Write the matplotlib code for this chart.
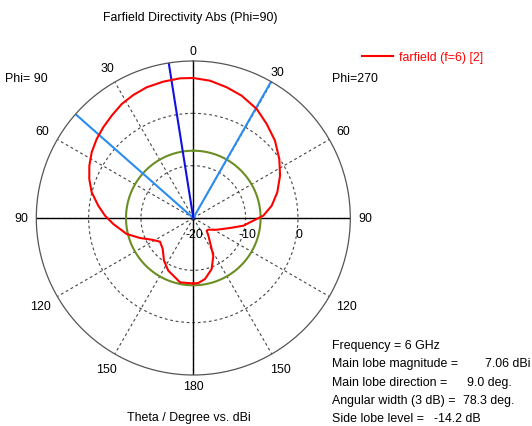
import numpy as np
import matplotlib
matplotlib.use("Agg")
import matplotlib.pyplot as plt

plt.rcParams['font.family'] = ['Liberation Sans', 'DejaVu Sans']
plt.rcParams['font.size'] = 8.9

# farfield pattern, plot angle in degrees (+ = Phi 90 side / left, - = Phi 270 side / right)
theta_deg = [-180, -175.6, -169.1, -160.2, -152.05, -145.5, -139.8, -133.5, -127.95, -116.6, -105.2,
             -98.75, -88.1, -81.08, -73.0, -64.0, -55.55, -46.58, -37.98, -30.18, -21.59,
             -14.33, -6.93, 0,
             5.44, 12.41, 19.63, 26.0, 32.13, 38.58, 44.78, 50.72, 57.11, 63.3, 69.44, 75.8,
             82.62, 88.5, 94.29, 103.5, 110.57, 117.55, 125.44, 135.37, 145.55, 154.62,
             164.78, 168.3, 180]
directivity = [-7.48, -7.54, -8.13, -9.64, -11.84, -14.36, -15.5, -16.47, -16.37, -14.99, -12.73,
               -10.33, -6.62, -4.83, -3.22, -1.56, -0.07, 1.49, 2.79, 4.1, 5.13,
               5.78, 6.43, 6.75,
               6.81, 6.68, 6.52, 6.15, 5.72, 5.01, 4.42, 3.85, 3.12, 2.24, 1.23, 0.03,
               -1.69, -3.13, -4.67, -6.91, -9.12, -11.04, -12.19, -11.68, -10.1, -8.86,
               -7.92, -7.45, -7.48]

main_dir = 9.0
beam_edges = [48.6, -29.7]
side_lobe_circle = 7.06 - 14.2

angle_ticks = [0, 30, 60, 90, 120, 150, 180, 210, 240, 270, 300, 330]
angle_labels = ["0", "30", "60", "90", "120", "150", "180", "150", "120", "90", "60", "30"]
label_r = [11.9, 13.0, 13.3, 12.9, 13.8, 13.3, 12.1, 13.3, 13.8, 12.9, 13.1, 12.2]
r_ticks = [-20, -10, 0]

info_labels = ["Frequency = 6 GHz", "Main lobe magnitude =", "Main lobe direction =",
               "Angular width (3 dB) =", "Side lobe level ="]
info_values = ["", "7.06 dBi", "9.0 deg.", "78.3 deg.", "-14.2 dB"]
info_value_x = [0, 485, 467, 463, 434]

W, H = 532, 427
fig = plt.figure(figsize=(W / 100, H / 100), dpi=100)
cx, cy, R = 193.3, 219, 157
ax = fig.add_axes([(cx - R) / W, 1 - (cy + R) / H, 2 * R / W, 2 * R / H], projection='polar')
ax.set_theta_zero_location('N')
ax.set_theta_direction(1)
ax.set_ylim(-20, 10)

ax.set_xticks(np.deg2rad(angle_ticks))
ax.set_xticklabels([])
ax.set_yticks([-10, 0])
ax.set_yticklabels([])
ax.tick_params(length=0)
ax.grid(True, color='#444444', ls=(0, (2.5, 2.5)), lw=0.8)
ax.spines['polar'].set_color('#555555')
ax.spines['polar'].set_linewidth(0.9)

# solid axes
for a in [0, 90, 180, 270]:
    ax.plot([np.deg2rad(a)] * 2, [-20, 10], color='black', lw=1.0)

# side lobe level circle
tc = np.linspace(0, 2 * np.pi, 361)
ax.plot(tc, np.full_like(tc, side_lobe_circle), color='#6b8e23', lw=1.5)

# beam lines
for a in beam_edges:
    ax.plot([np.deg2rad(a)] * 2, [-20, 10], color='#2a8cf0', lw=1.5)
ax.plot([np.deg2rad(main_dir)] * 2, [-20, 10], color='#1010e0', lw=1.5)

ax.plot(np.deg2rad(theta_deg), directivity, color='red', lw=1.5, label='farfield (f=6) [2]')

# angle labels
for a, lbl, rr in zip(angle_ticks, angle_labels, label_r):
    ax.text(np.deg2rad(a), rr, lbl, ha='center', va='center')

for rv in r_ticks:
    ax.annotate(str(rv), xy=(np.deg2rad(-90), rv), xytext=(1, -11.5),
                textcoords='offset points', ha='center', va='center')

fig.legend(loc='upper left', bbox_to_anchor=(362 / W, 1 - 52.5 / H), frameon=False,
           labelcolor='red', handlelength=2.5, handletextpad=0.5,
           borderpad=0, borderaxespad=0)

fig.text(190 / W, 1 - 18 / H, "Farfield Directivity Abs (Phi=90)", ha='center', va='center')
fig.text(5 / W, 1 - 79 / H, "Phi= 90", ha='left', va='center')
fig.text(332 / W, 1 - 79 / H, "Phi=270", ha='left', va='center')
fig.text(189 / W, 1 - 418 / H, "Theta / Degree vs. dBi", ha='center', va='center')

for i, (lbl, val, vx) in enumerate(zip(info_labels, info_values, info_value_x)):
    y = 346 + i * 18.3
    fig.text(332 / W, 1 - y / H, lbl, ha='left', va='center')
    if val:
        fig.text(vx / W, 1 - y / H, val, ha='left', va='center')

fig.savefig("out.png", dpi=100)
